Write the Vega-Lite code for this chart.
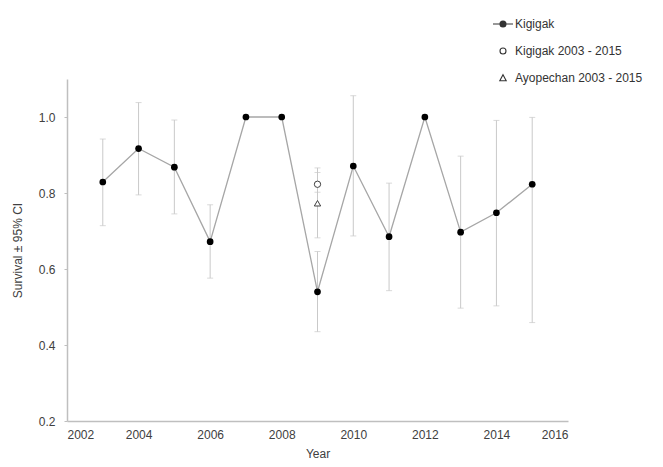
{
  "$schema": "https://vega.github.io/schema/vega-lite/v6.json",
  "width": 501,
  "height": 342,
  "autosize": {"type": "none"},
  "padding": {"left": 67, "top": 79, "right": 95, "bottom": 46},
  "background": "white",
  "config": {
    "view": {"stroke": null},
    "font": "Liberation Sans",
    "axis": {
      "grid": false,
      "domainColor": "#bfbfbf",
      "domainWidth": 1.5,
      "labelFont": "Liberation Sans",
      "labelFontSize": 12,
      "labelColor": "#404040",
      "titleFont": "Liberation Sans",
      "titleFontSize": 12,
      "titleFontWeight": "normal",
      "titleColor": "#404040"
    },
    "axisX": {"ticks": false, "labelPadding": 8, "titlePadding": 8},
    "axisY": {"ticks": true, "tickSize": 3, "tickColor": "#bfbfbf", "tickWidth": 1, "labelPadding": 9, "titlePadding": 14}
  },
  "data": {
    "values": [
      {"year": 2003, "series": "Kigigak", "value": 0.829, "lower": 0.714, "upper": 0.942},
      {"year": 2004, "series": "Kigigak", "value": 0.917, "lower": 0.795, "upper": 1.038},
      {"year": 2005, "series": "Kigigak", "value": 0.868, "lower": 0.745, "upper": 0.992},
      {"year": 2006, "series": "Kigigak", "value": 0.672, "lower": 0.576, "upper": 0.769},
      {"year": 2007, "series": "Kigigak", "value": 1.0, "lower": null, "upper": null},
      {"year": 2008, "series": "Kigigak", "value": 1.0, "lower": null, "upper": null},
      {"year": 2009, "series": "Kigigak", "value": 0.540, "lower": 0.435, "upper": 0.646},
      {"year": 2010, "series": "Kigigak", "value": 0.871, "lower": 0.687, "upper": 1.056},
      {"year": 2011, "series": "Kigigak", "value": 0.685, "lower": 0.543, "upper": 0.826},
      {"year": 2012, "series": "Kigigak", "value": 1.0, "lower": null, "upper": null},
      {"year": 2013, "series": "Kigigak", "value": 0.697, "lower": 0.497, "upper": 0.897},
      {"year": 2014, "series": "Kigigak", "value": 0.748, "lower": 0.503, "upper": 0.991},
      {"year": 2015, "series": "Kigigak", "value": 0.823, "lower": 0.459, "upper": 0.999},
      {"year": 2009, "series": "Kigigak 2003 - 2015", "value": 0.823, "lower": 0.802, "upper": 0.854},
      {"year": 2009, "series": "Ayopechan 2003 - 2015", "value": 0.773, "lower": 0.682, "upper": 0.866}
    ]
  },
  "layer": [
    {
      "transform": [{"filter": "datum.lower != null"}],
      "mark": {"type": "errorbar", "ticks": {"size": 6}, "color": "#c9c9c9", "thickness": 1},
      "encoding": {
        "x": {"field": "year", "type": "quantitative", "scale": {"domain": [2002, 2016], "nice": false, "zero": false}, "title": "Year", "axis": {"values": [2002, 2004, 2006, 2008, 2010, 2012, 2014, 2016], "format": "d"}},
        "y": {"field": "lower", "type": "quantitative", "scale": {"domain": [0.2, 1.1], "nice": false, "zero": false}, "title": "Survival ± 95% CI", "axis": {"values": [0.2, 0.4, 0.6, 0.8, 1.0], "format": ".1f"}},
        "y2": {"field": "upper"}
      }
    },
    {
      "transform": [{"filter": "datum.series == 'Kigigak'"}],
      "mark": {"type": "line", "color": "#a6a6a6", "strokeWidth": 1.3},
      "encoding": {
        "x": {"field": "year", "type": "quantitative", "title": "Year"},
        "y": {"field": "value", "type": "quantitative", "title": "Survival ± 95% CI"}
      }
    },
    {
      "transform": [{"filter": "datum.series == 'Kigigak'"}],
      "mark": {"type": "point", "shape": "circle", "filled": true, "color": "black", "size": 45, "opacity": 1},
      "encoding": {
        "x": {"field": "year", "type": "quantitative", "title": "Year"},
        "y": {"field": "value", "type": "quantitative", "title": "Survival ± 95% CI"}
      }
    },
    {
      "transform": [{"filter": "datum.series == 'Kigigak 2003 - 2015'"}],
      "mark": {"type": "point", "shape": "circle", "filled": false, "fill": "white", "stroke": "#404040", "strokeWidth": 1, "size": 40, "opacity": 1},
      "encoding": {
        "x": {"field": "year", "type": "quantitative", "title": "Year"},
        "y": {"field": "value", "type": "quantitative", "title": "Survival ± 95% CI"}
      }
    },
    {
      "transform": [{"filter": "datum.series == 'Ayopechan 2003 - 2015'"}],
      "mark": {"type": "point", "shape": "triangle-up", "filled": false, "fill": "white", "stroke": "#404040", "strokeWidth": 1, "size": 40, "opacity": 1},
      "encoding": {
        "x": {"field": "year", "type": "quantitative", "title": "Year"},
        "y": {"field": "value", "type": "quantitative", "title": "Survival ± 95% CI"}
      }
    },
    {
      "transform": [{"filter": "datum.year < 0"}],
      "mark": {"type": "point", "filled": false, "stroke": "#333333", "strokeWidth": 1, "size": 400, "opacity": 1},
      "encoding": {
        "x": {"field": "year", "type": "quantitative", "title": "Year"},
        "y": {"field": "value", "type": "quantitative", "title": "Survival ± 95% CI"},
        "shape": {
          "field": "series", "type": "nominal",
          "scale": {
            "domain": ["Kigigak", "Kigigak 2003 - 2015", "Ayopechan 2003 - 2015"],
            "range": [
              "M-1,0L1,0M-0.3,0A0.3,0.3 0 1,0 0.3,0A0.3,0.3 0 1,0 -0.3,0ZM-0.22,0A0.22,0.22 0 1,0 0.22,0A0.22,0.22 0 1,0 -0.22,0ZM-0.14,0A0.14,0.14 0 1,0 0.14,0A0.14,0.14 0 1,0 -0.14,0ZM-0.07,0A0.07,0.07 0 1,0 0.07,0A0.07,0.07 0 1,0 -0.07,0Z",
              "M-0.3,0A0.3,0.3 0 1,0 0.3,0A0.3,0.3 0 1,0 -0.3,0Z",
              "M0,-0.33L0.32,0.27L-0.32,0.27Z"
            ]
          },
          "legend": {
            "title": null,
            "orient": "none",
            "legendX": 425,
            "legendY": -66,
            "padding": 0,
            "symbolSize": 400,
            "symbolStrokeColor": "#333333",
            "symbolStrokeWidth": 1.1,
            "labelFont": "Liberation Sans",
            "labelFontSize": 12,
            "labelColor": "#333333",
            "labelOffset": 1,
            "rowPadding": 10
          }
        }
      }
    }
  ]
}
